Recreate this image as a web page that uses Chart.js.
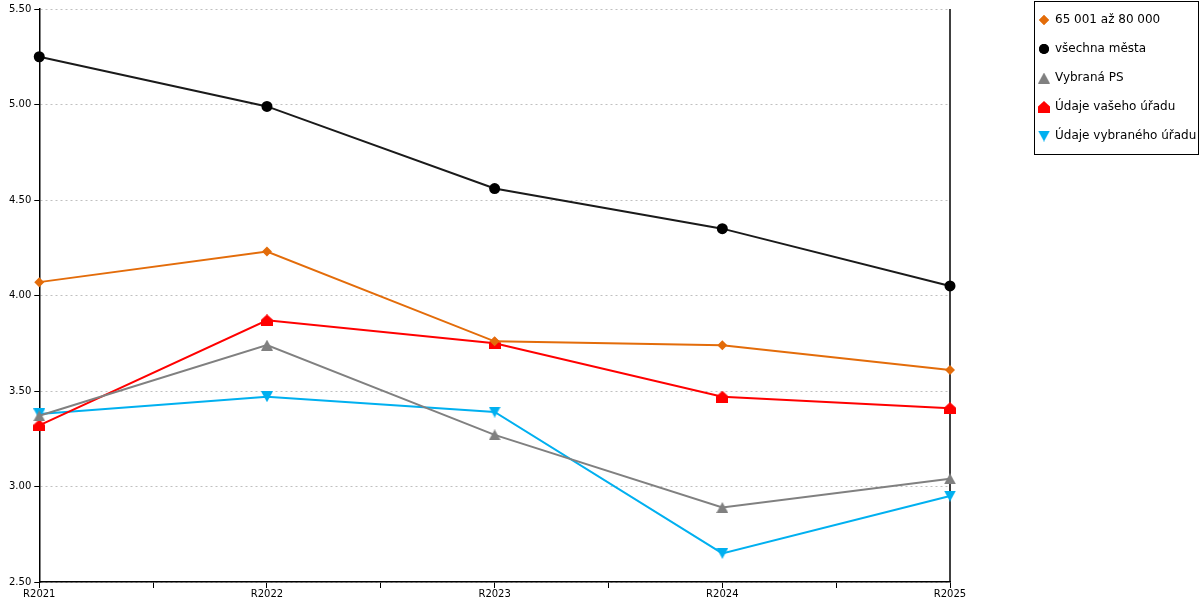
<!DOCTYPE html>
<html>
<head>
<meta charset="utf-8">
<script src="https://cdn.jsdelivr.net/npm/chart.js@4/dist/chart.umd.min.js"></script>
<style>
html,body{margin:0;padding:0;background:#fff;}
#wrap{width:1200px;height:600px;position:relative;}
</style>
</head>
<body>
<div id="wrap"><canvas id="c" width="1200" height="600"></canvas></div>
<script>
const categories = ['R2021', 'R2022', 'R2023', 'R2024', 'R2025'];
const seriesNames = ['65 001 až 80 000', 'všechna města', 'Vybraná PS', 'Údaje vašeho úřadu', 'Údaje vybraného úřadu'];
const group6580 = [4.07, 4.23, 3.76, 3.74, 3.61];
const allCities = [5.25, 4.99, 4.56, 4.35, 4.05];
const selectedPS = [3.37, 3.74, 3.27, 2.89, 3.04];
const yourOffice = [3.32, 3.87, 3.75, 3.47, 3.41];
const selectedOffice = [3.38, 3.47, 3.39, 2.65, 2.95];
const yTicks = [2.5, 3.0, 3.5, 4.0, 4.5, 5.0, 5.5];

const FONT = "'DejaVu Sans', Verdana, sans-serif";

function makeShape(draw, w, h) {
  const c = document.createElement('canvas');
  c.width = w; c.height = h;
  const g = c.getContext('2d');
  draw(g, w, h);
  return c;
}
const houseRed = makeShape((g, w, h) => {
  g.fillStyle = '#FF0000';
  g.beginPath();
  g.moveTo(w / 2, 0);
  g.lineTo(w, h * 0.45);
  g.lineTo(w, h);
  g.lineTo(0, h);
  g.lineTo(0, h * 0.45);
  g.closePath();
  g.fill();
}, 12, 12);
const triGray = makeShape((g, w, h) => {
  g.fillStyle = '#808080';
  g.beginPath();
  g.moveTo(w / 2, 0);
  g.lineTo(w, h);
  g.lineTo(0, h);
  g.closePath();
  g.fill();
}, 12, 11);
const triDownCyan = makeShape((g, w, h) => {
  g.fillStyle = '#00B0F0';
  g.beginPath();
  g.moveTo(0, 0);
  g.lineTo(w, 0);
  g.lineTo(w / 2, h);
  g.closePath();
  g.fill();
}, 12, 11);

const toXY = arr => arr.map((v, i) => ({x: i, y: v}));

const specs = [
  {data: group6580, color: '#E36C0A', style: 'rectRot', r: 5},
  {data: allCities, color: '#000000', line: '#1a1a1a', style: 'circle', r: 5.5},
  {data: selectedPS, color: '#808080', style: triGray, r: 6},
  {data: yourOffice, color: '#FF0000', style: houseRed, r: 6},
  {data: selectedOffice, color: '#00B0F0', style: triDownCyan, r: 6},
];

const datasets = specs.map((s, i) => ({
  label: seriesNames[i],
  data: toXY(s.data),
  borderColor: s.line || s.color,
  backgroundColor: s.color,
  pointBackgroundColor: s.color,
  pointBorderColor: s.color,
  pointBorderWidth: 0,
  pointStyle: s.style,
  pointRadius: s.r,
  pointHoverRadius: s.r,
  borderWidth: 2,
  tension: 0,
  clip: false,
}));

const frameAndLegend = {
  id: 'frameAndLegend',
  beforeDatasetsDraw(chart) {
    const {ctx, chartArea} = chart;
    ctx.save();
    ctx.strokeStyle = '#000';
    ctx.lineWidth = 1.5;
    ctx.beginPath();
    ctx.moveTo(chartArea.right, chartArea.top);
    ctx.lineTo(chartArea.right, chartArea.bottom);
    ctx.stroke();
    ctx.restore();
  },
  afterDraw(chart) {
    const {ctx} = chart;
    const bx = 1034.5, by = 1.5, bw = 164, bh = 153;
    ctx.save();
    ctx.strokeStyle = '#000';
    ctx.lineWidth = 1;
    ctx.strokeRect(bx, by, bw, bh);
    ctx.font = '12px ' + FONT;
    ctx.textBaseline = 'middle';
    ctx.textAlign = 'left';
    ctx.fillStyle = '#000';
    chart.data.datasets.forEach((ds, i) => {
      const cy = 20 + i * 29;
      const st = ds.pointStyle;
      if (typeof st === 'string') {
        ctx.fillStyle = ds.pointBackgroundColor;
        Chart.helpers.drawPoint(ctx, {pointStyle: st, radius: 5, rotation: 0, borderWidth: 0}, 1044, cy);
        ctx.fill();
      } else {
        ctx.drawImage(st, 1044 - st.width / 2, cy - st.height / 2);
      }
      ctx.fillStyle = '#000';
      ctx.fillText(ds.label, 1055, cy);
    });
    ctx.restore();
  }
};

new Chart(document.getElementById('c'), {
  type: 'line',
  data: {datasets},
  plugins: [frameAndLegend],
  options: {
    responsive: false,
    animation: false,
    events: [],
    layout: {padding: {left: 6, right: 250, top: 5, bottom: 0}},
    plugins: {legend: {display: false}, tooltip: {enabled: false}},
    scales: {
      x: {
        type: 'linear',
        min: 0,
        max: categories.length - 1,
        afterBuildTicks(scale) {
          const t = [];
          for (let v = 0; v <= categories.length - 1; v += 0.5) t.push({value: v});
          scale.ticks = t;
        },
        ticks: {
          autoSkip: false,
          maxRotation: 0,
          padding: 0,
          color: '#000',
          font: {family: FONT, size: 10},
          callback: v => Number.isInteger(v) ? categories[v] : ''
        },
        grid: {display: true, drawOnChartArea: false, drawTicks: true, tickLength: 6, tickColor: '#000', tickWidth: 1},
        border: {display: true, color: '#000', width: 1.5}
      },
      y: {
        min: 2.5,
        max: 5.5,
        afterBuildTicks(scale) {
          scale.ticks = yTicks.map(v => ({value: v}));
        },
        ticks: {
          padding: 3,
          color: '#000',
          font: {family: FONT, size: 10},
          callback: v => v.toFixed(2)
        },
        grid: {color: '#c0c0c0', lineWidth: 1, tickLength: 5, tickColor: '#000', tickWidth: 1, tickBorderDash: []},
        border: {display: true, color: '#000', width: 1.5, dash: [2, 3]}
      }
    }
  }
});
</script>
</body>
</html>
